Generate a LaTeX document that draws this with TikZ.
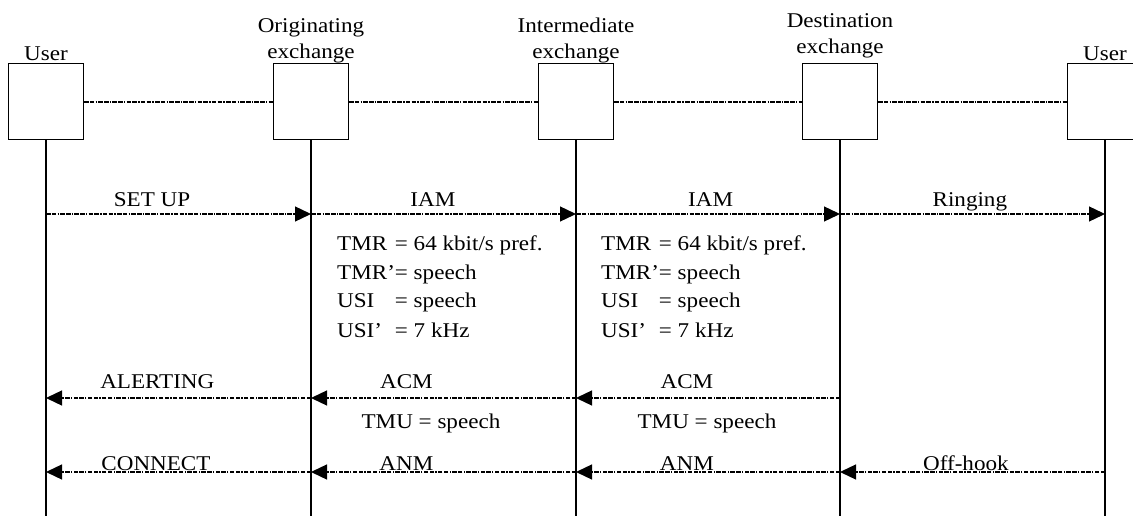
\documentclass[tikz,border=0pt]{standalone}
\usepackage{fontspec}
\setmainfont{Liberation Serif}[FakeStretch=1.1]
\usetikzlibrary{arrows.meta}

\tikzset{
  ent/.style={draw, line width=1pt, minimum width=75pt, minimum height=76pt, inner sep=0pt},
  enttitle/.style={anchor=south, align=center, inner sep=0pt, text depth=4.5pt},
  life/.style={line width=1.8pt},
  link/.style={line width=1.3pt, dash pattern=on 4.5pt off 1.3pt on 4.5pt off 1.3pt on 1.3pt off 1.3pt},
  msg/.style={link, -{Triangle[length=16pt,width=15pt]}},
  lbl/.style={anchor=base, inner sep=0pt},
}

\begin{document}
\begin{tikzpicture}[x=1pt, y=-1pt, font=\fontsize{21}{26}\selectfont]

  \clip (0,0) rectangle (1133,516);

  % entities
  \node[ent] (u1) at (46,102)   {};
  \node[ent] (oe) at (311,102)  {};
  \node[ent] (ie) at (576,102)  {};
  \node[ent] (de) at (840,102)  {};
  \node[ent] (u2) at (1105,102) {};

  \node[enttitle, yshift=-2pt] (u1t) at (u1.north) {User};
  \node[enttitle] (oet) at (oe.north) {Originating\\exchange};
  \node[enttitle] (iet) at (ie.north) {Intermediate\\exchange};
  \node[enttitle, yshift=5pt] (det) at (de.north) {Destination\\exchange};
  \node[enttitle, yshift=-2pt] (u2t) at (u2.north) {User};

  \draw[link] (u1) -- (oe);
  \draw[link] (oe) -- (ie);
  \draw[link] (ie) -- (de);
  \draw[link] (de) -- (u2);

  % life lines
  \coordinate (bot) at (0,520);
  \foreach \e in {u1,oe,ie,de,u2}
    \draw[life] (\e.south) -- (\e |- bot);

  % rows
  \coordinate (r1) at (0,214);
  \coordinate (r2) at (0,398);
  \coordinate (r3) at (0,472);

  \draw[msg] (u1 |- r1) -- node[lbl, pos=.40, yshift=7pt] (setup) {SET UP} (oe |- r1);
  \draw[msg] (oe |- r1) -- node[lbl, pos=.46, yshift=7pt] (iam1) {IAM} (ie |- r1);
  \draw[msg] (ie |- r1) -- node[lbl, pos=.51, yshift=7pt] (iam2) {IAM} (de |- r1);
  \draw[msg] (de |- r1) -- node[lbl, pos=.49, yshift=7pt] (ring) {Ringing} (u2 |- r1);

  \draw[msg] (oe |- r2) -- node[lbl, pos=.58, yshift=10pt] (alert) {ALERTING} (u1 |- r2);
  \draw[msg] (ie |- r2) -- node[lbl, pos=.64, yshift=10pt] (acm1) {ACM} (oe |- r2);
  \draw[msg] (de |- r2) -- node[lbl, pos=.58, yshift=10pt] (acm2) {ACM} (ie |- r2);

  \draw[msg] (oe |- r3) -- node[lbl, pos=.585, yshift=2pt] (conn) {CONNECT} (u1 |- r3);
  \draw[msg] (ie |- r3) -- node[lbl, pos=.64, yshift=2pt] (anm1) {ANM} (oe |- r3);
  \draw[msg] (de |- r3) -- node[lbl, pos=.58, yshift=2pt] (anm2) {ANM} (ie |- r3);
  \draw[msg] (u2 |- r3) -- node[lbl, pos=.525, yshift=2pt] (offh) {Off-hook} (de |- r3);

  % parameters
  \node[anchor=base west, inner sep=0pt, font=\fontsize{21}{29}\selectfont] (parA) at (337,250)
    {\begin{tabular}[t]{@{}l@{}l@{}}
      TMR\  & = 64 kbit/s pref.\\
      TMR’ & = speech\\
      USI & = speech\\
      USI’ & = 7 kHz
    \end{tabular}};
  \node[anchor=base west, inner sep=0pt, font=\fontsize{21}{29}\selectfont] (parB) at (601,250)
    {\begin{tabular}[t]{@{}l@{}l@{}}
      TMR\  & = 64 kbit/s pref.\\
      TMR’ & = speech\\
      USI & = speech\\
      USI’ & = 7 kHz
    \end{tabular}};

  \node[lbl] (tmuA) at (431,428) {TMU = speech};
  \node[lbl] (tmuB) at (707,428) {TMU = speech};

\end{tikzpicture}
\end{document}
